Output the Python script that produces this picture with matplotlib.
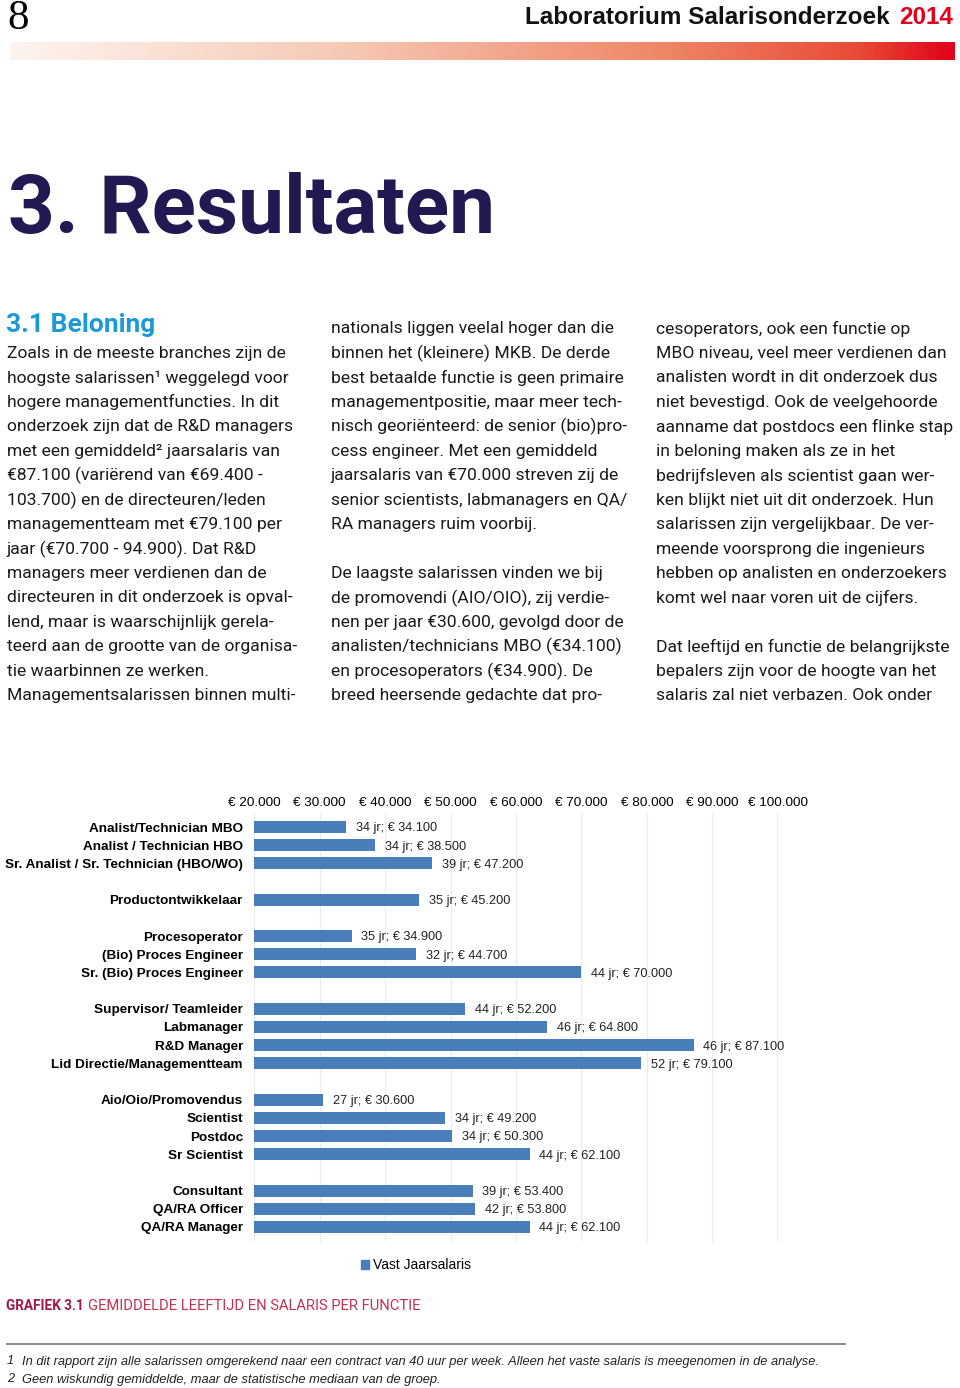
import numpy as np
import matplotlib
matplotlib.use("Agg")
import matplotlib.pyplot as plt
from matplotlib.colors import LinearSegmentedColormap
from matplotlib.patches import Patch

# Data (empty label / None = spacer between groups)
functions = [
    "Analist/Technician MBO", "Analist / Technician HBO", "Sr. Analist / Sr. Technician (HBO/WO)", "",
    "Productontwikkelaar", "",
    "Procesoperator", "(Bio) Proces Engineer", "Sr. (Bio) Proces Engineer", "",
    "Supervisor/ Teamleider", "Labmanager", "R&D Manager", "Lid Directie/Managementteam", "",
    "Aio/Oio/Promovendus", "Scientist", "Postdoc", "Sr Scientist", "",
    "Consultant", "QA/RA Officer", "QA/RA Manager",
]
ages = [34, 34, 39, None, 35, None, 35, 32, 44, None, 44, 46, 46, 52, None,
        27, 34, 34, 44, None, 39, 42, 44]
salaries = [34100, 38500, 47200, None, 45200, None, 34900, 44700, 70000, None,
            52200, 64800, 87100, 79100, None, 30600, 49200, 50300, 62100, None,
            53400, 53800, 62100]
x_ticks = [20000, 30000, 40000, 50000, 60000, 70000, 80000, 90000, 100000]

col1 = ["Zoals in de meeste branches zijn de",
        "hoogste salarissen¹ weggelegd voor",
        "hogere managementfuncties. In dit",
        "onderzoek zijn dat de R&D managers",
        "met een gemiddeld² jaarsalaris van",
        "€87.100 (variërend van €69.400 -",
        "103.700) en de directeuren/leden",
        "managementteam met €79.100 per",
        "jaar (€70.700 - 94.900). Dat R&D",
        "managers meer verdienen dan de",
        "directeuren in dit onderzoek is opval-",
        "lend, maar is waarschijnlijk gerela-",
        "teerd aan de grootte van de organisa-",
        "tie waarbinnen ze werken.",
        "Managementsalarissen binnen multi-"]
col2 = ["nationals liggen veelal hoger dan die",
        "binnen het (kleinere) MKB. De derde",
        "best betaalde functie is geen primaire",
        "managementpositie, maar meer tech-",
        "nisch georiënteerd: de senior (bio)pro-",
        "cess engineer. Met een gemiddeld",
        "jaarsalaris van €70.000 streven zij de",
        "senior scientists, labmanagers en QA/",
        "RA managers ruim voorbij.",
        "",
        "De laagste salarissen vinden we bij",
        "de promovendi (AIO/OIO), zij verdie-",
        "nen per jaar €30.600, gevolgd door de",
        "analisten/technicians MBO (€34.100)",
        "en procesoperators (€34.900). De",
        "breed heersende gedachte dat pro-"]
col3 = ["cesoperators, ook een functie op",
        "MBO niveau, veel meer verdienen dan",
        "analisten wordt in dit onderzoek dus",
        "niet bevestigd. Ook de veelgehoorde",
        "aanname dat postdocs een flinke stap",
        "in beloning maken als ze in het",
        "bedrijfsleven als scientist gaan wer-",
        "ken blijkt niet uit dit onderzoek. Hun",
        "salarissen zijn vergelijkbaar. De ver-",
        "meende voorsprong die ingenieurs",
        "hebben op analisten en onderzoekers",
        "komt wel naar voren uit de cijfers.",
        "",
        "Dat leeftijd en functie de belangrijkste",
        "bepalers zijn voor de hoogte van het",
        "salaris zal niet verbazen. Ook onder"]

W, H = 960, 1388
fig = plt.figure(figsize=(W / 100, H / 100), dpi=100)
renderer = fig.canvas.get_renderer()


def fx(px):
    return px / W


def fy(py):
    return 1 - py / H


body_font = "Roboto"
sans = "Liberation Sans"

# Header
fig.text(fx(7), fy(19), "8", fontsize=31, family="Liberation Serif", va="center", ha="left")
t = fig.text(fx(953), fy(18), "2014", fontsize=17.5, fontweight="bold", color="#e2001a",
             family=sans, va="center", ha="right")
x_2014 = t.get_window_extent(renderer).x0
fig.text(fx(x_2014 - 9), fy(18), "Laboratorium Salarisonderzoek", fontsize=17.5, fontweight="bold",
         color="#111111", family=sans, va="center", ha="right")

grad_ax = fig.add_axes([fx(10), fy(60), fx(945), (60 - 42) / H])
cmap = LinearSegmentedColormap.from_list(
    "hdr", [(0, "#fdf4ef"), (0.35, "#f6c9b5"), (0.7, "#ee8565"), (0.9, "#e84a35"), (1, "#e2001a")])
grad_ax.imshow(np.linspace(0, 1, 512)[None, :], aspect="auto", cmap=cmap)
grad_ax.set_axis_off()

# Title
fig.text(fx(8), fy(211), "3. Resultaten", fontsize=59, fontweight="bold", color="#211a52",
         family=body_font, va="center", ha="left")

# Text columns
line_y = [329 + 24.45 * i for i in range(16)]
fig.text(fx(6), fy(325), "3.1 Beloning", fontsize=19, fontweight="bold", color="#1d9ad6",
         family=body_font, va="center", ha="left")
for x0, lines, start in [(7, col1, 1), (331, col2, 0), (656, col3, 0)]:
    for i, s in enumerate(lines):
        fig.text(fx(x0), fy(line_y[start + i]), s, fontsize=12.6, color="#1a1a1a",
                 family=body_font, va="center", ha="left")

# Chart
ax = fig.add_axes([fx(254), fy(1241.5), fx(778 - 254), (1241.5 - 812.5) / H])
pos = [i for i, s in enumerate(salaries) if s is not None]
vals = [salaries[i] for i in pos]
ax.barh(pos, vals, height=0.66, color="#4a7ebb", zorder=2)
for i in pos:
    lab = f"{ages[i]} jr; € {salaries[i]:,}".replace(",", ".")
    ax.annotate(lab, (salaries[i], i), xytext=(7, -1), textcoords="offset points",
                va="center", ha="left", fontsize=9.2, family=sans, color="#222222")
ax.set_xlim(x_ticks[0], x_ticks[-1])
ax.set_ylim(len(functions) - 1 + 0.8, -0.8)
ax.set_yticks(pos)
ax.set_yticklabels([functions[i] for i in pos], fontsize=9.7, fontweight="bold", family=sans)
ax.set_xticks(x_ticks)
ax.set_xticklabels([f"€ {v:,}".replace(",", ".") for v in x_ticks], fontsize=9.7, family=sans)
ax.xaxis.tick_top()
ax.tick_params(axis="x", length=0, pad=2.8)
ax.tick_params(axis="y", length=0, pad=8)
ax.grid(axis="x", color="#ebebeb", linewidth=0.8, zorder=0)
ax.axvline(x_ticks[-1], color="#ebebeb", linewidth=1.6, zorder=0)
for sp in ax.spines.values():
    sp.set_visible(False)

fig.legend(handles=[Patch(color="#4a7ebb", label="Vast Jaarsalaris")],
           loc="center", bbox_to_anchor=(fx(416), fy(1265)), frameon=False,
           handlelength=0.6, handleheight=0.6, handletextpad=0.3,
           prop={"family": sans, "size": 10})

# Caption
c = fig.text(fx(6), fy(1305.5), "GRAFIEK 3.1", fontsize=9.8, fontweight="bold", color="#a3174f",
             family=body_font, va="center", ha="left")
x_cap = c.get_window_extent(renderer).x1
fig.text(fx(x_cap + 4), fy(1305.5), "GEMIDDELDE LEEFTIJD EN SALARIS PER FUNCTIE", fontsize=10.6,
         color="#c4304f", family=body_font, va="center", ha="left")

# Footnotes
fig.add_artist(plt.Line2D([fx(7), fx(845)], [fy(1344), fy(1344)], color="#8a8a8a", linewidth=1.4))
notes = ["In dit rapport zijn alle salarissen omgerekend naar een contract van 40 uur per week. Alleen het vaste salaris is meegenomen in de analyse.",
         "Geen wiskundig gemiddelde, maar de statistische mediaan van de groep."]
for k, (yy, s) in enumerate(zip([1361.5, 1379.5], notes)):
    fig.text(fx(7), fy(yy), str(k + 1), fontsize=9.3, style="italic", family=sans,
             color="#222222", va="center", ha="left")
    fig.text(fx(22), fy(yy), s, fontsize=9.3, style="italic", family=sans,
             color="#222222", va="center", ha="left")

fig.savefig("out.png", dpi=100)
